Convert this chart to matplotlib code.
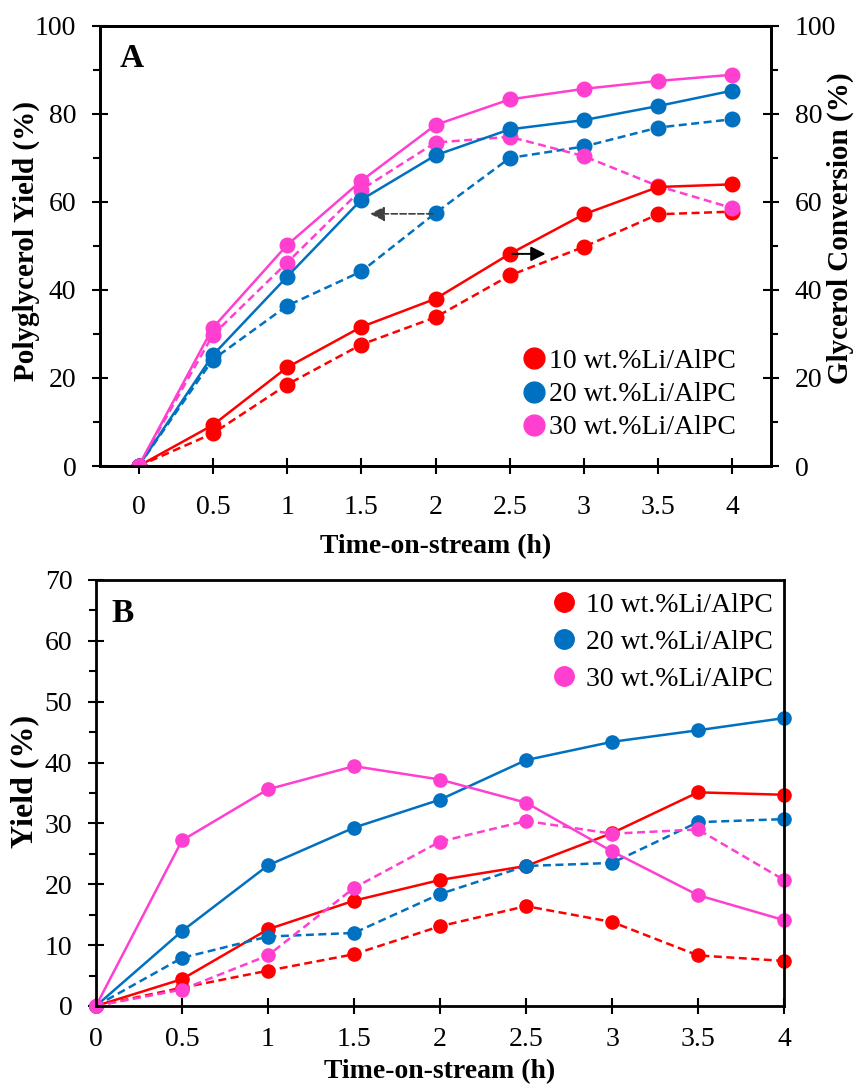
import matplotlib
matplotlib.use("Agg")
import matplotlib.pyplot as plt
from matplotlib.lines import Line2D
from matplotlib.ticker import MultipleLocator

plt.rcParams["font.family"] = ["Liberation Serif", "DejaVu Serif"]
plt.rcParams["font.size"] = 20

RED, BLUE, PINK = "#FF0000", "#0070C0", "#FF3FCF"
catalysts = ["10 wt.%Li/AlPC", "20 wt.%Li/AlPC", "30 wt.%Li/AlPC"]
time_h = [0, 0.5, 1, 1.5, 2, 2.5, 3, 3.5, 4]

# Panel A: solid = glycerol conversion (right axis), dashed = polyglycerol yield (left axis)
conv_10 = [0, 9.3, 22.4, 31.6, 38.0, 48.2, 57.2, 63.4, 64.0]
conv_20 = [0, 25.2, 43.0, 60.5, 70.6, 76.5, 78.6, 81.8, 85.3]
conv_30 = [0, 31.4, 50.2, 64.8, 77.5, 83.3, 85.7, 87.5, 88.9]
yield_10 = [0, 7.4, 18.5, 27.6, 33.8, 43.3, 49.8, 57.2, 57.8]
yield_20 = [0, 24.2, 36.4, 44.2, 57.5, 70.0, 72.6, 76.9, 78.8]
yield_30 = [0, 29.8, 46.2, 62.8, 73.5, 74.8, 70.4, 63.6, 58.6]

# Panel B: product yields, solid and dashed series per catalyst
b_solid_10 = [0, 4.4, 12.6, 17.3, 20.7, 23.0, 28.4, 35.1, 34.7]
b_solid_20 = [0, 12.3, 23.1, 29.3, 33.9, 40.4, 43.4, 45.3, 47.3]
b_solid_30 = [0, 27.2, 35.6, 39.4, 37.2, 33.4, 25.4, 18.2, 14.1]
b_dash_10 = [0, 3.0, 5.8, 8.5, 13.1, 16.4, 13.8, 8.3, 7.4]
b_dash_20 = [0, 7.9, 11.4, 12.0, 18.4, 23.0, 23.5, 30.2, 30.7]
b_dash_30 = [0, 2.7, 8.3, 19.4, 27.0, 30.4, 28.3, 29.0, 20.7]

fig = plt.figure(figsize=(8.58, 10.84), dpi=100)
axA = fig.add_axes([0.1166, 0.5701, 0.782, 0.406])
axB = fig.add_axes([0.1119, 0.0720, 0.8019, 0.3930])

lw, ms = 1.8, 10.5
dash = (0, (3.2, 1.8))


def style_axis(ax, ymax, major, minor, xpad):
    ax.set_ylim(0, ymax)
    ax.yaxis.set_major_locator(MultipleLocator(major))
    ax.yaxis.set_minor_locator(MultipleLocator(minor))
    ax.set_xticks(time_h)
    ax.set_xticklabels(["0", "0.5", "1", "1.5", "2", "2.5", "3", "3.5", "4"])
    ax.tick_params(axis="both", which="major", direction="inout", length=12,
                   width=1.5, labelsize=20)
    ax.tick_params(axis="y", which="major", pad=11)
    ax.tick_params(axis="y", which="minor", direction="out", length=5, width=1.5)
    ax.tick_params(axis="x", which="major", pad=xpad)
    for s in ax.spines.values():
        s.set_linewidth(2)


# ---- panel A
for vals, c in [(yield_10, RED), (yield_20, BLUE), (yield_30, PINK)]:
    axA.plot(time_h, vals, color=c, ls=dash, lw=lw, marker="o", ms=ms)
for vals, c in [(conv_10, RED), (conv_20, BLUE), (conv_30, PINK)]:
    axA.plot(time_h, vals, color=c, ls="-", lw=lw, marker="o", ms=ms, zorder=3)
axA.set_xlim(-0.26, 4.26)
style_axis(axA, 100, 20, 10, xpad=15)
axA.set_xlabel("Time-on-stream (h)", fontweight="bold", labelpad=10)
axA.set_ylabel("Polyglycerol Yield (%)", fontweight="bold", fontsize=21)
axA.yaxis.set_label_coords(-0.089, 0.511)
axA.text(-0.13, 92.5, "A", fontsize=24, fontweight="bold", ha="left", va="center")

axA2 = axA.twinx()
style_axis(axA2, 100, 20, 10, xpad=15)
axA2.set_ylabel("Glycerol Conversion (%)", fontweight="bold", fontsize=21)
axA2.yaxis.set_label_coords(1.083, 0.54)

# arrows pointing each family of curves to its axis
axA.annotate("", xy=(1.54, 57.3), xytext=(2.0, 57.3),
             arrowprops=dict(arrowstyle="-|>", color="#404040", lw=1.2,
                             ls="--", mutation_scale=22))
axA.annotate("", xy=(2.76, 48.2), xytext=(2.5, 48.2),
             arrowprops=dict(arrowstyle="-|>", color="black", lw=1.4,
                             mutation_scale=22))

handles = [Line2D([], [], ls="none", marker="o", ms=15, color=c)
           for c in (RED, BLUE, PINK)]
axA.legend(handles, catalysts, loc="lower right", bbox_to_anchor=(0.948, 0.058),
           frameon=False, fontsize=20, handletextpad=-0.05, labelspacing=0.28,
           handlelength=1.2, borderaxespad=0, borderpad=0)

# ---- panel B
series_b = [(b_solid_10, RED, "-"), (b_dash_10, RED, dash),
            (b_solid_20, BLUE, "-"), (b_dash_20, BLUE, dash),
            (b_solid_30, PINK, "-"), (b_dash_30, PINK, dash)]
for vals, c, ls in series_b:
    axB.plot(time_h, vals, color=c, ls=ls, lw=lw, marker="o", ms=9.5,
             clip_on=False)
axB.set_xlim(0, 4)
style_axis(axB, 70, 10, 5, xpad=9)
axB.set_xlabel("Time-on-stream (h)", fontweight="bold", labelpad=5)
axB.set_ylabel("Yield (%)", fontweight="bold", fontsize=23)
axB.yaxis.set_label_coords(-0.082, 0.526)
axB.text(0.09, 64.5, "B", fontsize=24, fontweight="bold", ha="left", va="center")
handles_b = [Line2D([], [], ls="none", marker="o", ms=14, color=c)
             for c in (RED, BLUE, PINK)]
axB.legend(handles_b, catalysts, loc="upper right", bbox_to_anchor=(0.984, 0.971),
           frameon=False, fontsize=20, handletextpad=0.2, labelspacing=0.42,
           handlelength=1.2, borderaxespad=0, borderpad=0)

fig.savefig("out.png", dpi=100)
